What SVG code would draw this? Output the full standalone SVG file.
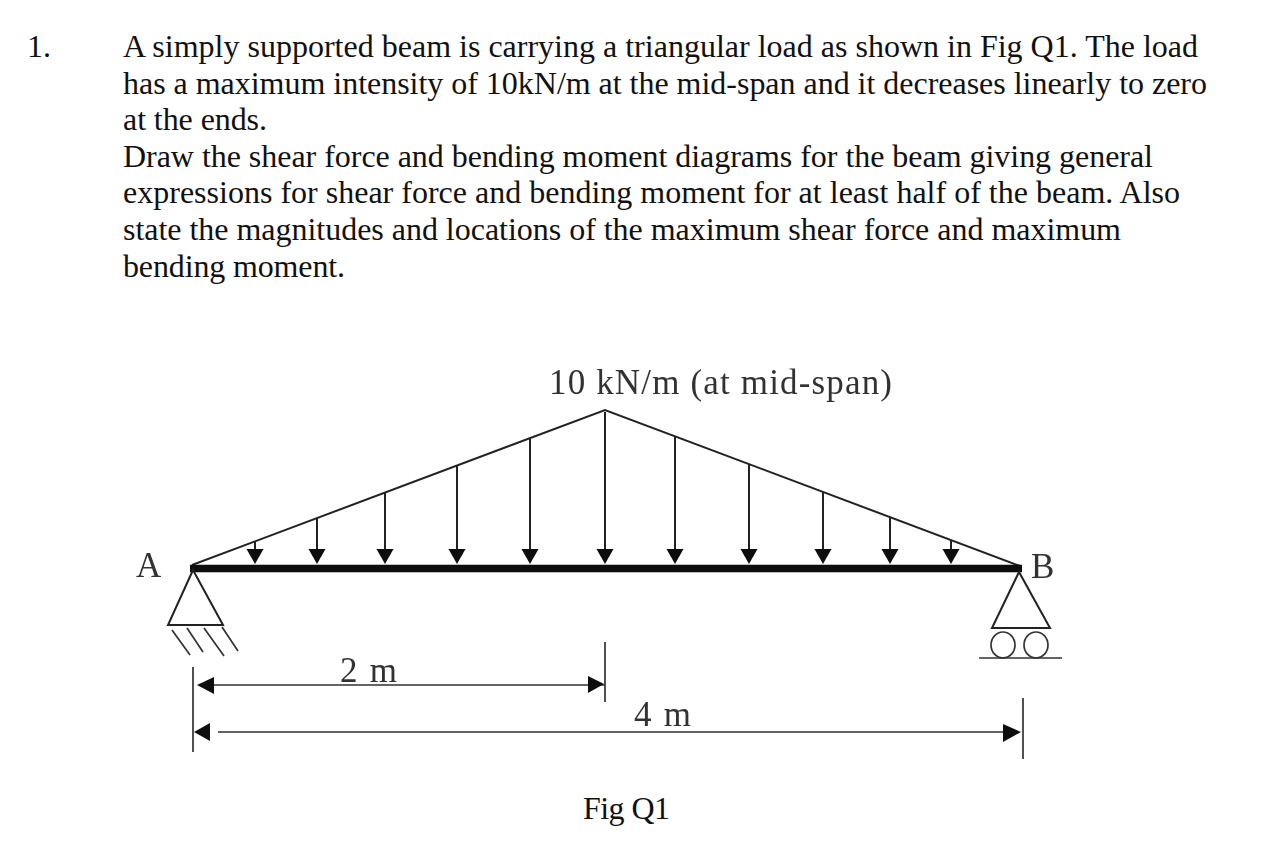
<svg xmlns="http://www.w3.org/2000/svg" width="1276" height="856" viewBox="0 0 1276 856">
<style>
.t{font-family:"Liberation Serif","Times New Roman",serif;font-size:32px;fill:#111}
.f{font-family:"Liberation Serif","Times New Roman",serif;font-size:35px;fill:#333}
.l{stroke:#222;stroke-width:2;fill:none}
.d{stroke:#333;stroke-width:1.7;fill:none}
.h{fill:#111;stroke:none}
</style>
<defs>
<path id="ah" class="h" d="M-8.500-15H8.500L0 0Z"/>
<filter id="soft" x="-2%" y="-2%" width="104%" height="104%"><feGaussianBlur stdDeviation="0.5"/></filter>
</defs>
<rect width="1276" height="856" fill="#fff"/>
<g id="question">
<text class="t" x="27" y="56.500">1.</text>
<text class="t" x="123" y="56.500" textLength="1075">A simply supported beam is carrying a triangular load as shown in Fig Q1. The load</text>
<text class="t" x="123" y="93.500" textLength="1084">has a maximum intensity of 10kN/m at the mid-span and it decreases linearly to zero</text>
<text class="t" x="123" y="129.500" textLength="144">at the ends.</text>
<text class="t" x="123" y="166.500" textLength="1030">Draw the shear force and bending moment diagrams for the beam giving general</text>
<text class="t" x="123" y="202.500" textLength="1057">expressions for shear force and bending moment for at least half of the beam. Also</text>
<text class="t" x="123" y="240" textLength="998">state the magnitudes and locations of the maximum shear force and maximum</text>
<text class="t" x="123" y="277" textLength="222">bending moment.</text>
</g>
<text id="fig-caption" class="t" x="583" y="819" textLength="87">Fig Q1</text>
<g filter="url(#soft)">
<g id="labels">
<text class="f" x="549" y="394" textLength="343">10 kN/m (at mid-span)</text>
<text class="f" x="136" y="577">A</text>
<text class="f" x="1031" y="578">B</text>
<text class="f" x="340" y="682" textLength="57">2 m</text>
<text class="f" x="634" y="726" textLength="57">4 m</text>
</g>
<g id="connectors">
<path class="l" d="M192 565L605 410L1020 566"/>
<path d="M190 568.500H1022" stroke="#111" stroke-width="7.500" fill="none"/>
<g id="load-arrows">
<path class="l" d="M255 541V556M317 518V556M385 492V556M457 465V556M530 438V556M605 412V556M675 436V556M749 464V556M823 492V556M890 517V556M951 540V556"/>
<use href="#ah" x="255" y="564"/><use href="#ah" x="317" y="564"/><use href="#ah" x="385" y="564"/><use href="#ah" x="457" y="564"/><use href="#ah" x="530" y="564"/><use href="#ah" x="605" y="564"/><use href="#ah" x="675" y="564"/><use href="#ah" x="749" y="564"/><use href="#ah" x="823" y="564"/><use href="#ah" x="890" y="564"/><use href="#ah" x="951" y="564"/>
</g>
<g id="dimensions">
<path class="d" d="M193 667V752M205 685H605M218 732H1010M605 642V702M1023 698V759"/>
<path class="h" d="M197 685L214 677V694Z"/>
<path class="h" d="M194 732L210 723V741Z"/>
<path class="h" d="M604 684L588 676V693Z"/>
<path class="h" d="M1021 732L1003 724V742Z"/>
</g>
</g>
<g id="support-A">
<path class="l" d="M193 570L168 625H223Z"/>
<path class="d" d="M172 630L190 655M187 628L203 652M204 628L224 656M222 627L238 651"/>
</g>
<g id="support-B">
<path class="l" d="M1019 572L992 628H1050Z"/>
<ellipse class="d" cx="1003" cy="645" rx="12" ry="13"/>
<ellipse class="d" cx="1036" cy="645" rx="12" ry="13"/>
<path class="d" d="M979 658H1062"/>
</g>
</g>
</svg>
